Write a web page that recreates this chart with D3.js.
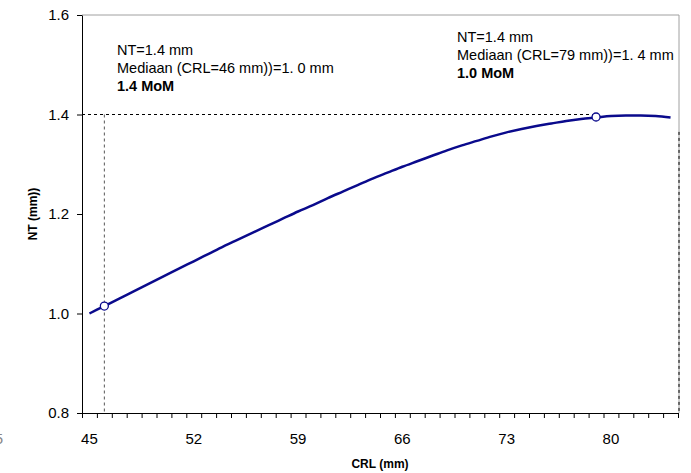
<!DOCTYPE html>
<html>
<head>
<meta charset="utf-8">
<script src="https://cdn.jsdelivr.net/npm/d3@7"></script>
<style>
  body { margin: 0; background: #fff; }
  svg { font-family: Arial, "Liberation Sans", sans-serif; }
</style>
</head>
<body>
<script>
// CRL (mm) per category, median NT (mm)
var crl = [45,46,47,48,49,50,51,52,53,54,55,56,57,58,59,60,61,62,63,64,
           65,66,67,68,69,70,71,72,73,74,75,76,77,78,79,80,81,82,83,84];
var medianNT = [1.000,1.015,1.030,1.045,1.060,1.075,1.090,1.105,1.120,1.135,
                1.149,1.163,1.177,1.191,1.205,1.218,1.232,1.245,1.258,1.271,
                1.283,1.295,1.306,1.317,1.328,1.338,1.347,1.356,1.364,1.371,
                1.377,1.382,1.387,1.391,1.394,1.397,1.398,1.398,1.397,1.394];
var xTickLabels = [45, 52, 59, 66, 73, 80];
var yTicks = [0.8, 1.0, 1.2, 1.4, 1.6];
// measured points
var points = [{crl: 46, nt: 1.015}, {crl: 79, nt: 1.395}];
var measuredNT = 1.4;
var notes = [
  {crl: 46, lines: ["NT=1.4 mm", "Mediaan (CRL=46 mm))=1. 0 mm", "1.4 MoM"]},
  {crl: 79, lines: ["NT=1.4 mm", "Mediaan (CRL=79 mm))=1. 4 mm", "1.0 MoM"]}
];

var W = 691, H = 473;
var m = {left: 82, right: 678, top: 15, bottom: 413};

var svg = d3.select('body').append('svg')
    .attr('width', W)
    .attr('height', H);

// category axis: each CRL is a band, ticks on band edges
var x = d3.scaleLinear().domain([44.5, 84.5]).range([m.left, m.right]);
var y = d3.scaleLinear().domain([0.8, 1.6]).range([m.bottom, m.top]);

// plot border (top + right)
svg.append('path')
   .attr('d', 'M' + m.left + ',' + m.top + 'H' + (m.right + 1) + 'V' + m.bottom)
   .attr('fill', 'none')
   .attr('stroke', '#a0a0a0')
   .attr('stroke-width', 1);

// dashed helper lines
svg.append('line')
   .attr('x1', m.left).attr('x2', x(points[1].crl))
   .attr('y1', y(measuredNT)).attr('y2', y(measuredNT))
   .attr('stroke', '#000').attr('stroke-dasharray', '3,3');
svg.append('line')
   .attr('x1', x(points[0].crl)).attr('x2', x(points[0].crl))
   .attr('y1', y(measuredNT)).attr('y2', m.bottom)
   .attr('stroke', '#555').attr('stroke-dasharray', '3,3');
svg.append('line')
   .attr('x1', m.right + 1).attr('x2', m.right + 1)
   .attr('y1', y(1.365)).attr('y2', m.bottom)
   .attr('stroke', '#000').attr('stroke-dasharray', '3,3');

// y axis
var yAxis = svg.append('g')
   .attr('transform', 'translate(' + m.left + ',0)')
   .call(d3.axisLeft(y).tickValues(yTicks).tickFormat(d3.format('.1f')).tickSize(5).tickSizeOuter(0).tickPadding(8));
yAxis.select('.domain').attr('stroke', '#000');
yAxis.selectAll('text').attr('font-size', 15).attr('fill', '#000').attr('font-family', 'Arial, "Liberation Sans", sans-serif');

// x axis: minor ticks on band edges
var edges = d3.range(44.5, 85, 1);
var xAxis = svg.append('g')
   .attr('transform', 'translate(0,' + m.bottom + ')')
   .call(d3.axisBottom(x).tickValues(edges).tickFormat('').tickSize(5).tickSizeOuter(0));
xAxis.select('.domain').attr('stroke', '#000');

svg.append('g').selectAll('text')
   .data(xTickLabels)
   .enter().append('text')
   .attr('x', (d) => x(d))
   .attr('y', 444)
   .attr('text-anchor', 'middle')
   .attr('font-size', 15)
   .text((d) => d);

// clipped label at the far left edge
svg.append('text')
   .attr('x', 3).attr('y', 444)
   .attr('text-anchor', 'end')
   .attr('font-size', 15)
   .attr('fill', '#888')
   .text('5');

// axis titles
svg.append('text')
   .attr('x', 380).attr('y', 468)
   .attr('text-anchor', 'middle')
   .attr('font-size', 12).attr('font-weight', 'bold')
   .text('CRL (mm)');
svg.append('text')
   .attr('transform', 'translate(37,' + ((m.top + m.bottom) / 2) + ') rotate(-90)')
   .attr('text-anchor', 'middle')
   .attr('font-size', 12).attr('font-weight', 'bold')
   .text('NT (mm))');

// median curve
var line = d3.line()
   .x((d, i) => x(crl[i]))
   .y((d) => y(d))
   .curve(d3.curveMonotoneX);
svg.append('path')
   .datum(medianNT)
   .attr('d', line)
   .attr('fill', 'none')
   .attr('stroke', '#0a0a8c')
   .attr('stroke-width', 2.5);

svg.selectAll('circle.pt')
   .data(points)
   .enter().append('circle')
   .attr('class', 'pt')
   .attr('cx', (d) => x(d.crl))
   .attr('cy', (d) => y(d.nt))
   .attr('r', 4)
   .attr('fill', '#fff')
   .attr('stroke', '#0a0a8c')
   .attr('stroke-width', 1.3);

// annotations
var notePos = [{x: 117, y: 55}, {x: 457, y: 42}];
notes.forEach((n, k) => {
  n.lines.forEach((t, j) => {
    svg.append('text')
       .attr('x', notePos[k].x)
       .attr('y', notePos[k].y + j * 18)
       .attr('font-size', 14.5)
       .attr('font-weight', j === 2 ? 'bold' : 'normal')
       .text(t);
  });
});
</script>
</body>
</html>
